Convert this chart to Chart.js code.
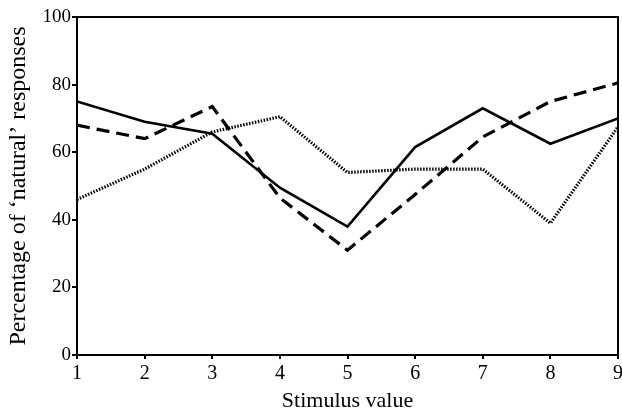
<!DOCTYPE html>
<html>
<head>
<meta charset="utf-8">
<script src="https://cdn.jsdelivr.net/npm/chart.js@4.4.1/dist/chart.umd.min.js"></script>
<style>
  html, body { margin: 0; padding: 0; background: #fff; }
  #wrap { width: 622px; height: 416px; overflow: hidden; }
</style>
</head>
<body>
<div id="wrap"><canvas id="respChart" width="632" height="416"></canvas></div>
<script>
// stimulus values 1..9
const stimulus = [1, 2, 3, 4, 5, 6, 7, 8, 9];
const solidSeries = [75, 69, 65.5, 49.5, 38, 61.5, 73, 62.5, 70];
const dashedSeries = [68, 64, 73.5, 46.5, 31, 47.5, 64.5, 75, 80.5];
const dottedSeries = [46, 55, 66, 70.5, 54, 55, 55, 39, 67.5];
const yTicks = [0, 20, 40, 60, 80, 100];

const serif = "'Liberation Serif', 'DejaVu Serif', serif";

function toPoints(values) {
    return values.map((v, i) => ({ x: stimulus[i], y: v }));
}

// full box round the plot area
const frame = {
    id: 'frame',
    afterDatasetsDraw(chart) {
        const a = chart.chartArea;
        const ctx = chart.ctx;
        ctx.save();
        ctx.strokeStyle = '#000';
        ctx.lineWidth = 2;
        ctx.strokeRect(a.left, a.top, a.right - a.left, a.bottom - a.top);
        ctx.restore();
    }
};

var ctx = document.getElementById("respChart").getContext('2d');
var respChart = new Chart(ctx, {
    type: 'line',
    data: {
        datasets: [{
            data: toPoints(solidSeries),
            borderColor: '#000',
            borderWidth: 2.6
        }, {
            data: toPoints(dashedSeries),
            borderColor: '#000',
            borderWidth: 3.2,
            borderDash: [13, 7]
        }, {
            data: toPoints(dottedSeries),
            borderColor: '#000',
            borderWidth: 3.2,
            borderDash: [1.5, 1.5]
        }]
    },
    options: {
        responsive: false,
        animation: false,
        layout: {
            padding: { top: 17, right: 14, left: 0, bottom: 0 }
        },
        plugins: {
            legend: false,
            tooltip: false
        },
        elements: {
            point: { radius: 0 },
            line: { tension: 0, fill: false }
        },
        scales: {
            x: {
                type: 'linear',
                min: 1,
                max: 9,
                afterFit: (scale) => { scale.height = 61; },
                afterBuildTicks: (scale) => {
                    scale.ticks = stimulus.map(v => ({ value: v }));
                },
                grid: {
                    display: true,
                    drawOnChartArea: false,
                    drawTicks: true,
                    tickLength: 4,
                    color: '#000',
                    lineWidth: 2
                },
                border: { display: true, color: '#000', width: 2 },
                ticks: {
                    color: '#000',
                    padding: 3,
                    font: { family: serif, size: 20 }
                },
                title: {
                    display: true,
                    text: 'Stimulus value',
                    color: '#000',
                    font: { family: serif, size: 22 },
                    padding: { top: 0, bottom: 2 }
                }
            },
            y: {
                type: 'linear',
                min: 0,
                max: 100,
                afterFit: (scale) => { scale.width = 77; },
                afterBuildTicks: (scale) => {
                    scale.ticks = yTicks.map(v => ({ value: v }));
                },
                grid: {
                    display: true,
                    drawOnChartArea: false,
                    drawTicks: true,
                    tickLength: 5,
                    color: '#000',
                    lineWidth: 2
                },
                border: { display: true, color: '#000', width: 2 },
                ticks: {
                    color: '#000',
                    padding: 1,
                    font: { family: serif, size: 19 }
                },
                title: {
                    display: true,
                    text: 'Percentage of ‘natural’ responses',
                    color: '#000',
                    font: { family: serif, size: 24 },
                    padding: { top: 4, bottom: 0 }
                }
            }
        }
    },
    plugins: [frame]
});
</script>
</body>
</html>
